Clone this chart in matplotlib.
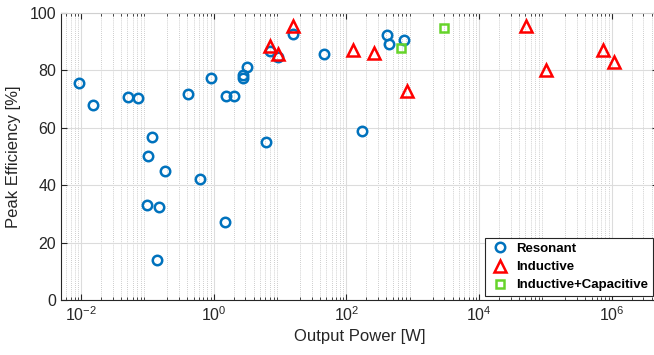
import numpy as np
import matplotlib
matplotlib.use("Agg")
import matplotlib.pyplot as plt
from matplotlib.ticker import LogLocator, NullFormatter

plt.rcParams['font.family'] = ['Liberation Sans', 'DejaVu Sans']

# data
res_p = [0.0093, 0.015, 0.051, 0.072, 0.117, 0.103, 0.183, 0.62, 0.10, 0.152,
         1.48, 0.142, 0.41, 0.92, 1.53, 2.04, 2.8, 2.75, 3.13, 6.2,
         7.1, 9.2, 15.5, 46.6, 170, 416, 436, 740]
res_eff = [75.6, 67.9, 70.7, 70.4, 56.9, 50.2, 44.8, 42.0, 33.0, 32.5,
           27.1, 13.9, 71.7, 77.2, 71.2, 71.2, 77.5, 78.4, 81.3, 55.2,
           86.9, 84.6, 92.6, 85.7, 58.8, 92.2, 89.3, 90.5]

ind_p = [7.1, 9.3, 15.5, 126, 262, 830, 52000, 104000, 740000, 1.08e6]
ind_eff = [88.5, 85.8, 95.5, 87.2, 86.2, 72.8, 95.3, 80.2, 87.2, 83.0]

ic_p = [670, 2950]
ic_eff = [87.9, 94.7]

fig = plt.figure(figsize=(6.54, 3.55), dpi=100)
ax = fig.add_axes([61/654, 55/355, 597/654, 287/355])

txt = '#262626'
ax.semilogx(res_p, res_eff, 'o', color='#0072BD', mfc='none', ms=6.8, mew=1.8, label='Resonant', zorder=3)
ax.semilogx(ind_p, ind_eff, '^', color='#FF0000', mfc='none', ms=8.5, mew=1.8, label='Inductive', zorder=3)
ax.semilogx(ic_p, ic_eff, 's', color='#66D42A', mfc='none', ms=5.5, mew=1.8, label='Inductive+Capacitive', zorder=3)

ax.set_xlim(5e-3, 5e6)
ax.set_ylim(0, 100)
ax.set_xticks([1e-2, 1e0, 1e2, 1e4, 1e6])
ax.set_yticks([0, 20, 40, 60, 80, 100])
ax.xaxis.set_minor_locator(LogLocator(base=10, subs=np.arange(2, 10), numticks=20))
ax.xaxis.set_minor_formatter(NullFormatter())

ax.grid(True, which='major', color='#dcdcdc', lw=0.8)
ax.grid(True, which='minor', axis='x', color='#bdbdbd', lw=0.6, ls=(0, (1, 1.5)))
ax.set_axisbelow(True)

ax.tick_params(which='both', direction='in', top=True, right=True, colors=txt, labelsize=11.5)
ax.tick_params(which='major', length=4, width=0.8)
ax.tick_params(which='minor', length=2.5, width=0.6)
ax.spines['left'].set_color(txt)
ax.spines['bottom'].set_color(txt)
ax.spines['top'].set_color('#d0d0d0')
ax.spines['right'].set_color('#d0d0d0')

ax.set_xlabel('Output Power [W]', fontsize=12, color=txt, labelpad=4)
ax.set_ylabel('Peak Efficiency [%]', fontsize=12, color=txt, labelpad=6)

leg = ax.legend(loc='lower right', bbox_to_anchor=(653/654, 59/355), bbox_transform=fig.transFigure,
                borderaxespad=0, fancybox=False, framealpha=1, edgecolor='#262626', borderpad=0.35,
                labelspacing=0.45, handlelength=1.6, handletextpad=0.45,
                prop={'weight': 'bold', 'size': 9.5})
leg.get_frame().set_linewidth(0.8)

fig.savefig('out.png', dpi=100)
